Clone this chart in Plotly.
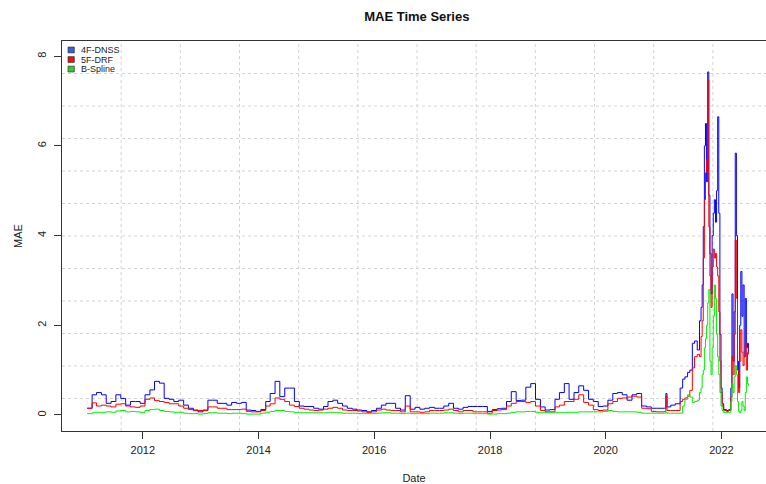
import plotly.graph_objects as go
import pandas as pd

# monthly samples 2011-01 .. 2020-12 (mid-month)
monthly_dates = pd.date_range("2011-01-01", periods=120, freq="MS") + pd.Timedelta(days=14)

dnss_monthly = [
    0.15, 0.45, 0.5, 0.45, 0.26, 0.3, 0.45, 0.37, 0.22, 0.3, 0.3, 0.26,
    0.45, 0.56, 0.75, 0.71, 0.37, 0.35, 0.3, 0.33, 0.22, 0.15, 0.11, 0.07,
    0.11, 0.33, 0.33, 0.26, 0.26, 0.22, 0.28, 0.26, 0.28, 0.11, 0.1, 0.08,
    0.12, 0.3, 0.48, 0.75, 0.41, 0.6, 0.6, 0.3, 0.2, 0.19, 0.19, 0.15,
    0.13, 0.19, 0.3, 0.33, 0.26, 0.2, 0.15, 0.13, 0.11, 0.1, 0.07, 0.1,
    0.15, 0.22, 0.26, 0.26, 0.15, 0.11, 0.43, 0.13, 0.17, 0.13, 0.15, 0.17,
    0.15, 0.15, 0.2, 0.26, 0.15, 0.13, 0.17, 0.19, 0.19, 0.19, 0.19, 0.08,
    0.12, 0.14, 0.15, 0.3, 0.52, 0.32, 0.33, 0.62, 0.7, 0.35, 0.18, 0.11,
    0.12, 0.35, 0.5, 0.7, 0.35, 0.5, 0.65, 0.55, 0.35, 0.3, 0.19, 0.2,
    0.33, 0.48, 0.5, 0.45, 0.33, 0.45, 0.48, 0.2, 0.18, 0.15, 0.15, 0.15,
]
drf_monthly = [
    0.15, 0.27, 0.2, 0.22, 0.2, 0.18, 0.24, 0.25, 0.2, 0.18, 0.17, 0.2,
    0.35, 0.38, 0.32, 0.3, 0.28, 0.25, 0.25, 0.2, 0.15, 0.12, 0.1, 0.1,
    0.1, 0.18, 0.18, 0.15, 0.15, 0.12, 0.12, 0.12, 0.13, 0.08, 0.07, 0.07,
    0.1, 0.2, 0.25, 0.38, 0.35, 0.3, 0.22, 0.19, 0.15, 0.13, 0.11, 0.1,
    0.11, 0.13, 0.15, 0.17, 0.15, 0.11, 0.1, 0.1, 0.09, 0.07, 0.06, 0.07,
    0.11, 0.13, 0.11, 0.1, 0.1, 0.07, 0.2, 0.07, 0.07, 0.06, 0.07, 0.1,
    0.1, 0.1, 0.11, 0.13, 0.1, 0.07, 0.1, 0.1, 0.07, 0.07, 0.07, 0.04,
    0.1, 0.11, 0.12, 0.2, 0.26, 0.3, 0.3, 0.28, 0.3, 0.2, 0.1, 0.07,
    0.07, 0.18, 0.22, 0.3, 0.3, 0.35, 0.45, 0.28, 0.22, 0.12, 0.1, 0.11,
    0.25, 0.3, 0.37, 0.38, 0.4, 0.42, 0.4, 0.15, 0.14, 0.08, 0.07, 0.07,
]
spline_monthly = [
    0.03, 0.05, 0.06, 0.06, 0.07, 0.06, 0.09, 0.1, 0.07, 0.08, 0.07, 0.06,
    0.1, 0.12, 0.13, 0.1, 0.08, 0.07, 0.06, 0.06, 0.04, 0.03, 0.03, 0.02,
    0.03, 0.05, 0.05, 0.04, 0.04, 0.03, 0.04, 0.04, 0.03, 0.02, 0.02, 0.02,
    0.04, 0.06, 0.08, 0.1, 0.1, 0.08, 0.07, 0.05, 0.05, 0.05, 0.05, 0.05,
    0.05, 0.05, 0.06, 0.06, 0.05, 0.04, 0.04, 0.04, 0.03, 0.03, 0.03, 0.03,
    0.04, 0.05, 0.05, 0.04, 0.04, 0.03, 0.04, 0.03, 0.03, 0.03, 0.03, 0.04,
    0.04, 0.04, 0.05, 0.05, 0.04, 0.03, 0.04, 0.04, 0.03, 0.03, 0.03, 0.02,
    0.02, 0.03, 0.03, 0.04, 0.06, 0.07, 0.07, 0.08, 0.08, 0.06, 0.05, 0.05,
    0.05, 0.05, 0.05, 0.06, 0.06, 0.06, 0.07, 0.07, 0.07, 0.07, 0.07, 0.08,
    0.1, 0.08, 0.07, 0.07, 0.07, 0.07, 0.06, 0.04, 0.04, 0.04, 0.04, 0.04,
]

# denser samples through the 2021-2022 turbulence
recent_dates = [
    "2021-01-08", "2021-01-15", "2021-01-22", "2021-02-15", "2021-03-15", "2021-04-15",
    "2021-05-01", "2021-05-15", "2021-06-01", "2021-06-15", "2021-07-01", "2021-07-15",
    "2021-08-01", "2021-08-15", "2021-08-25", "2021-09-01", "2021-09-08", "2021-09-15",
    "2021-09-22", "2021-09-29", "2021-10-06", "2021-10-13", "2021-10-20", "2021-10-27",
    "2021-11-03", "2021-11-10", "2021-11-17", "2021-11-24", "2021-12-01", "2021-12-08",
    "2021-12-15", "2021-12-22", "2021-12-29", "2022-01-05", "2022-01-15", "2022-02-01",
    "2022-02-15", "2022-03-01", "2022-03-08", "2022-03-15", "2022-03-22", "2022-03-29",
    "2022-04-05", "2022-04-12", "2022-04-19", "2022-04-26", "2022-05-03", "2022-05-10",
    "2022-05-17", "2022-05-24", "2022-05-31", "2022-06-07", "2022-06-14", "2022-06-20",
]
dnss_recent = [
    0.15, 0.48, 0.18, 0.22, 0.25, 0.6, 0.8, 0.85, 0.95, 1.0, 1.6, 1.65,
    1.45, 2.1, 2.4, 2.9, 4.2, 6.0, 6.5, 5.2, 7.65, 4.9, 3.6, 2.7,
    4.0, 4.5, 4.8, 4.3, 5.0, 6.65, 4.5, 1.8, 0.6, 0.25, 0.12, 0.1,
    0.12, 0.6, 2.7, 1.2, 2.3, 5.84, 4.0, 1.2, 0.6, 2.0, 3.2, 2.2,
    2.9, 1.3, 2.6, 1.5, 1.6, 1.4,
]
drf_recent = [
    0.08, 0.42, 0.1, 0.1, 0.1, 0.3, 0.35, 0.38, 0.42, 0.55, 1.05, 1.3,
    1.35, 1.3, 1.75, 2.1, 3.5, 4.8, 5.4, 5.7, 7.47, 4.2, 3.1, 2.4,
    3.3, 3.7, 3.5, 3.6, 3.3, 3.1, 2.3, 1.2, 0.5, 0.2, 0.1, 0.08,
    0.1, 0.4, 1.3, 0.9, 1.8, 3.9, 2.6, 1.0, 0.5, 1.2, 1.9, 1.4,
    1.1, 1.3, 1.6, 1.0, 1.4, 1.35,
]
spline_recent = [
    0.04, 0.06, 0.04, 0.04, 0.04, 0.04, 0.2, 0.35, 0.45, 0.4, 0.28, 0.3,
    0.33, 0.5, 0.6, 0.9, 1.0, 1.5, 1.7, 2.0, 2.5, 2.8, 1.2, 0.9,
    1.5, 2.2, 2.9, 2.6, 1.8, 1.3, 0.9, 0.5, 0.2, 0.1, 0.06, 0.05,
    0.06, 0.3, 0.7, 0.5, 0.85, 1.1, 0.9, 0.3, 0.08, 0.05, 0.1, 0.3,
    0.2, 0.1, 0.5, 0.85, 0.7, 0.65,
]

dates = list(monthly_dates) + list(pd.to_datetime(recent_dates))
series = [
    ("4F-DNSS", dnss_monthly + dnss_recent, "#0000ff", "#3a5fd8"),
    ("5F-DRF", drf_monthly + drf_recent, "#ff0000", "#ee1111"),
    ("B-Spline", spline_monthly + spline_recent, "#00ee00", "#33cc33"),
]

FONT = "Liberation Sans, Arial, sans-serif"

fig = go.Figure()
for name, vals, color, _ in series:
    fig.add_trace(go.Scatter(x=dates, y=vals, mode="lines", name=name,
                             line=dict(color=color, width=1, shape="hv"), showlegend=False))

# R-style grid(): 12 x 12 equal cells over the plot region (plot box runs a bit past the image edge)
shapes = []
for k in range(1, 12):
    gx = k * 59.17 / 704
    shapes.append(dict(type="line", xref="paper", yref="paper", x0=gx, x1=gx, y0=0, y1=1,
                       line=dict(color="#d3d3d3", width=1, dash="dot"), layer="below"))
    gy = k / 12
    shapes.append(dict(type="line", xref="paper", yref="paper", x0=0, x1=1, y0=gy, y1=gy,
                       line=dict(color="#d3d3d3", width=1, dash="dot"), layer="below"))

# legend, drawn R-style with filled boxes
annotations = []
for i, (name, _, _, fill) in enumerate(series):
    yc = 0.977 - i * 0.0245
    shapes.append(dict(type="rect", xref="paper", yref="paper", x0=0.0085, x1=0.0175,
                       y0=yc - 0.0075, y1=yc + 0.0075, fillcolor=fill,
                       line=dict(color="#222", width=0.6)))
    annotations.append(dict(text=name, xref="paper", yref="paper", x=0.0235, y=yc,
                            xanchor="left", yanchor="middle", showarrow=False,
                            font=dict(family=FONT, size=9, color="#222")))

fig.update_layout(
    width=766, height=484,
    margin=dict(l=62, r=0, t=41, b=53),
    paper_bgcolor="white", plot_bgcolor="white",
    title=dict(text="MAE Time Series", x=0.504, xref="paper", y=0.967, yanchor="middle",
               xanchor="center", font=dict(family=FONT, size=13, color="#111", weight="bold")),
    shapes=shapes, annotations=annotations,
    showlegend=False,
)
fig.update_xaxes(
    range=["2010-08-09", "2022-10-09"], tick0="2012-01-01", dtick="M24", tickformat="%Y",
    showgrid=False, zeroline=False, showline=True, linecolor="#333", linewidth=1, mirror=True,
    ticks="outside", ticklen=7, tickcolor="#333", ticklabelstandoff=2,
    tickfont=dict(family=FONT, size=11, color="#222"),
    title=dict(text="Date", font=dict(family=FONT, size=11, color="#222"), standoff=20),
)
fig.update_yaxes(
    range=[-0.357, 8.34], tick0=0, dtick=2, tickangle=-90,
    showgrid=False, zeroline=False, showline=True, linecolor="#333", linewidth=1,
    ticks="outside", ticklen=7, tickcolor="#333", ticklabelstandoff=4,
    tickfont=dict(family=FONT, size=11, color="#222"),
    title=dict(text="MAE", font=dict(family=FONT, size=11, color="#222"), standoff=10),
)

# drop the page's default 8px body margin so the figure sits at the window origin
fig.write_html("out.html", config={"displayModeBar": False},
               post_script="document.body.style.margin = '0';")
